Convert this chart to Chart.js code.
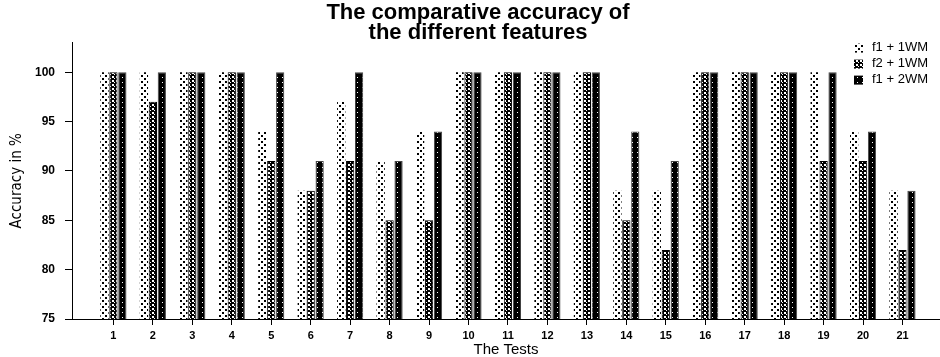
<!DOCTYPE html>
<html>
<head>
<meta charset="utf-8">
<script src="https://cdn.jsdelivr.net/npm/chart.js@4/dist/chart.umd.min.js"></script>
<style>
  html, body { margin: 0; padding: 0; background: #ffffff; }
  canvas { display: block; }
</style>
</head>
<body>
<canvas id="c" width="940" height="357"></canvas>
<script>
// ---- data ----
const tests = [1, 2, 3, 4, 5, 6, 7, 8, 9, 10, 11, 12, 13, 14, 15, 16, 17, 18, 19, 20, 21];
const f1_1WM = [100, 100, 100, 100, 94, 88, 97, 91, 94, 100, 100, 100, 100, 88, 88, 100, 100, 100, 100, 94, 88];
const f2_1WM = [100, 97, 100, 100, 91, 88, 91, 85, 85, 100, 100, 100, 100, 85, 82, 100, 100, 100, 91, 91, 82];
const f1_2WM = [100, 100, 100, 100, 100, 91, 100, 91, 94, 100, 100, 100, 100, 94, 91, 100, 100, 100, 100, 94, 88];
const seriesNames = ['f1 + 1WM', 'f2 + 1WM', 'f1 + 2WM'];
const yTicks = [75, 80, 85, 90, 95, 100];
const titleLines = ['The comparative accuracy of', 'the different features'];
const xTitle = 'The Tests';
const yTitle = 'Accuracy in %';

const FONT = "'Liberation Sans', Arial, Helvetica, sans-serif";

// ---- fill patterns ----
function makePattern(w, h, bg, fg, cells) {
  const t = document.createElement('canvas');
  t.width = w; t.height = h;
  const g = t.getContext('2d');
  g.fillStyle = bg; g.fillRect(0, 0, w, h);
  g.fillStyle = fg;
  cells.forEach(([x, y, cw, ch]) => g.fillRect(x, y, cw, ch));
  return document.getElementById('c').getContext('2d').createPattern(t, 'repeat');
}
const patDots = makePattern(6, 6, '#ffffff', '#000000', [[0, 0, 2, 2], [3, 3, 2, 2]]);
const patCheck = makePattern(4, 4, '#000000', '#ffffff', [[0, 0, 2, 2], [2, 2, 1, 1]]);
const patDark = makePattern(5, 5, '#000000', '#ffffff', [[2, 2, 1, 1]]);

const fills = [patDots, patCheck, patDark];
const borders = ['rgba(0,0,0,0)', '#000000', '#444444'];
const borderW = [0, 1, 1];
const seriesValues = [f1_1WM, f2_1WM, f1_2WM];

const datasets = seriesValues.map((vals, s) => ({
  label: seriesNames[s],
  data: vals.map((v, i) => ({ x: tests[i], y: v })),
  backgroundColor: fills[s],
  borderColor: borders[s],
  borderWidth: borderW[s],
  categoryPercentage: 0.68,
  barPercentage: 0.92
}));

// ---- legend drawn inside the plot area, top right ----
const innerLegend = {
  id: 'innerLegend',
  afterLayout(chart) {
    if (chart.titleBlock) { chart.titleBlock.left += 16; }
  },
  afterDatasetsDraw(chart) {
    const ctx = chart.ctx;
    const area = chart.chartArea;
    ctx.save();
    ctx.font = '13px ' + FONT;
    ctx.textBaseline = 'middle';
    chart.data.datasets.forEach((ds, i) => {
      const y = area.top + 5 + i * 16;
      const bx = area.right - 86;
      ctx.fillStyle = ds.backgroundColor;
      ctx.fillRect(bx, y - 4, 9, 9);
      ctx.fillStyle = '#000';
      ctx.fillText(ds.label, bx + 18, y);
    });
    ctx.restore();
  }
};

new Chart(document.getElementById('c'), {
  type: 'bar',
  data: { datasets },
  plugins: [innerLegend],
  options: {
    responsive: false,
    animation: false,
    events: [],
    layout: { padding: { left: 0, right: 0, top: 0, bottom: 0 } },
    plugins: {
      legend: { display: false },
      tooltip: { enabled: false },
      title: {
        display: true,
        text: titleLines,
        color: '#000',
        font: { family: FONT, size: 22, weight: 'bold', lineHeight: 0.9 },
        padding: { top: 3, bottom: 0 }
      }
    },
    scales: {
      x: {
        type: 'linear',
        offset: false,
        min: -0.05,
        max: 21.95,
        afterBuildTicks(axis) { axis.ticks = tests.map(v => ({ value: v })); },
        afterFit(scale) { scale.height = 38; },
        ticks: {
          color: '#000',
          font: { family: FONT, size: 11, weight: 'bold' },
          padding: 4,
          maxRotation: 0,
          autoSkip: false,
          callback: v => String(v)
        },
        grid: { display: true, offset: false, drawOnChartArea: false, drawTicks: true, tickLength: 6, color: '#000' },
        border: { display: true, color: '#000', width: 1 },
        title: {
          display: true,
          text: xTitle,
          color: '#000',
          font: { family: FONT, size: 15, lineHeight: 1 },
          padding: { top: 0, bottom: 0 }
        }
      },
      y: {
        min: 75,
        max: 103,
        afterBuildTicks(axis) { axis.ticks = yTicks.map(v => ({ value: v })); },
        afterFit(scale) { scale.width = 72; },
        ticks: {
          color: '#000',
          font: { family: FONT, size: 12, weight: 'bold' },
          padding: 10
        },
        grid: { display: true, drawOnChartArea: false, drawTicks: true, tickLength: 7, color: '#000' },
        border: { display: true, color: '#000', width: 1 },
        title: {
          display: true,
          text: yTitle,
          color: '#000',
          font: { family: "'Liberation Sans Narrow', 'DejaVu Sans Condensed', " + FONT, size: 15, lineHeight: 1 },
          padding: { top: 10, bottom: 0 }
        }
      }
    }
  }
});
</script>
</body>
</html>
